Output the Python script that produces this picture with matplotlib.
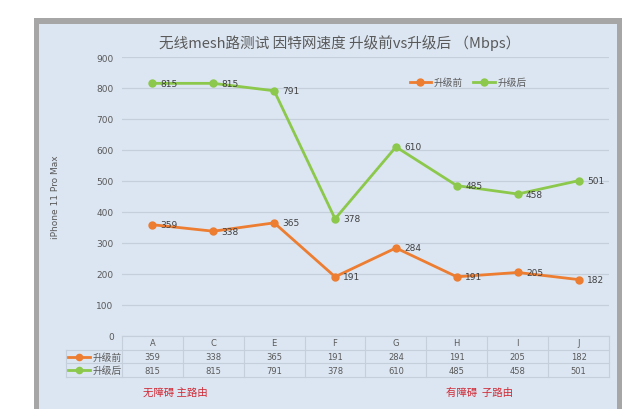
import matplotlib
matplotlib.use("Agg")
import matplotlib.pyplot as plt
from matplotlib.patches import Rectangle
from matplotlib.transforms import blended_transform_factory

plt.rcParams['font.family'] = ['Noto Sans CJK SC', 'DejaVu Sans']

# data
categories = ["A", "C", "E", "F", "G", "H", "I", "J"]
before = [359, 338, 365, 191, 284, 191, 205, 182]
after = [815, 815, 791, 378, 610, 485, 458, 501]
series_names = ["升级前", "升级后"]
colors = ["#ED7D31", "#8CC84B"]
notes = ["无障碍 主路由", "有障碍  子路由"]
yticks = [0, 100, 200, 300, 400, 500, 600, 700, 800, 900]

W, H = 640, 410
txt = "#595959"
grid = "#c5cfdb"

fig = plt.figure(figsize=(W / 100, H / 100), dpi=100)
fig.patch.set_facecolor("white")

def fx(px):
    return px / W

def fy(py):
    return 1 - py / H

# frame
fig.patches.append(Rectangle((fx(34), -0.1), fx(622) - fx(34), fy(19) + 0.1,
                             transform=fig.transFigure, facecolor="#a6a6a6",
                             edgecolor="none", zorder=-10))
fig.patches.append(Rectangle((fx(39), -0.1), fx(617) - fx(39), fy(25) + 0.1,
                             transform=fig.transFigure, facecolor="#dce6f2",
                             edgecolor="none", zorder=-9))

ax = fig.add_axes([fx(122), fy(337), fx(609) - fx(122), fy(58) - fy(337)])
ax.set_facecolor("none")
x = list(range(len(categories)))
for vals, name, c in zip([before, after], series_names, colors):
    ax.plot(x, vals, color=c, lw=2, marker="o", ms=5, label=name, zorder=3)
    for xi, v in zip(x, vals):
        ax.annotate(str(v), (xi, v), xytext=(6, 0), textcoords="offset points",
                    va="center", ha="left", fontsize=6.5, color="#404040",
                    family=["DejaVu Sans"], zorder=4)

ax.set_xlim(-0.5, len(categories) - 0.5)
ax.set_ylim(0, 900)
ax.set_yticks(yticks)
ax.set_yticklabels([str(t) for t in yticks], family=["DejaVu Sans"])
ax.set_xticks([])
ax.tick_params(axis="y", length=0, labelsize=6.5, labelcolor=txt, pad=6)
ax.grid(axis="y", color=grid, lw=0.9)
ax.set_axisbelow(True)
for s in ax.spines.values():
    s.set_visible(False)

ax.legend(loc="center", bbox_to_anchor=(fx(468), fy(83)),
          bbox_transform=fig.transFigure, ncol=2, frameon=False,
          fontsize=7, handlelength=2.2, handletextpad=0.25,
          columnspacing=1.1, labelcolor=txt)

fig.text(fx(340), fy(43), "无线mesh路测试 因特网速度 升级前vs升级后 （Mbps）",
         ha="center", va="center", fontsize=10.5, color=txt)
fig.text(fx(55), fy(197), "iPhone 11 Pro Max", rotation=90, ha="center",
         va="center", fontsize=6.5, color=txt, family=["DejaVu Sans"])

# data table under the chart
lab_w = 56 / 61
n = len(categories)
tab = fig.add_axes([fx(66), fy(378), fx(609) - fx(66), fy(337) - fy(378)])
tab.set_xlim(-0.5 - lab_w, n - 0.5)
tab.set_ylim(3, 0)
tab.axis("off")
tab.plot([-0.5, n - 0.5], [0, 0], color=grid, lw=0.8, clip_on=False)
for r in [1, 2, 3]:
    tab.plot([-0.5 - lab_w, n - 0.5], [r, r], color=grid, lw=0.8, clip_on=False)
for i in range(n + 1):
    tab.plot([i - 0.5, i - 0.5], [0, 3], color=grid, lw=0.8, clip_on=False)
tab.plot([-0.5 - lab_w] * 2, [1, 3], color=grid, lw=0.8, clip_on=False)
for i, cat in enumerate(categories):
    tab.text(i, 0.5, cat, ha="center", va="center", fontsize=6,
             color=txt, family=["DejaVu Sans"])
for r, (vals, name, c) in enumerate(zip([before, after], series_names, colors)):
    yy = r + 1.5
    for i, v in enumerate(vals):
        tab.text(i, yy, str(v), ha="center", va="center", fontsize=6,
                 color=txt, family=["DejaVu Sans"])
    x0 = -0.5 - lab_w + 0.03
    tab.plot([x0, x0 + 0.36], [yy, yy], color=c, lw=2, clip_on=False)
    tab.plot([x0 + 0.18], [yy], color=c, marker="o", ms=4.5, clip_on=False)
    tab.text(x0 + 0.40, yy, name, ha="left", va="center", fontsize=7, color=txt)

# red notes
note_tr = blended_transform_factory(ax.transData, fig.transFigure)
for xi, note in zip([0.37, 5.37], notes):
    ax.text(xi, fy(393), note, transform=note_tr, ha="center", va="center",
            fontsize=7.5, color="#d02a35")

fig.savefig("out.png", dpi=100)
